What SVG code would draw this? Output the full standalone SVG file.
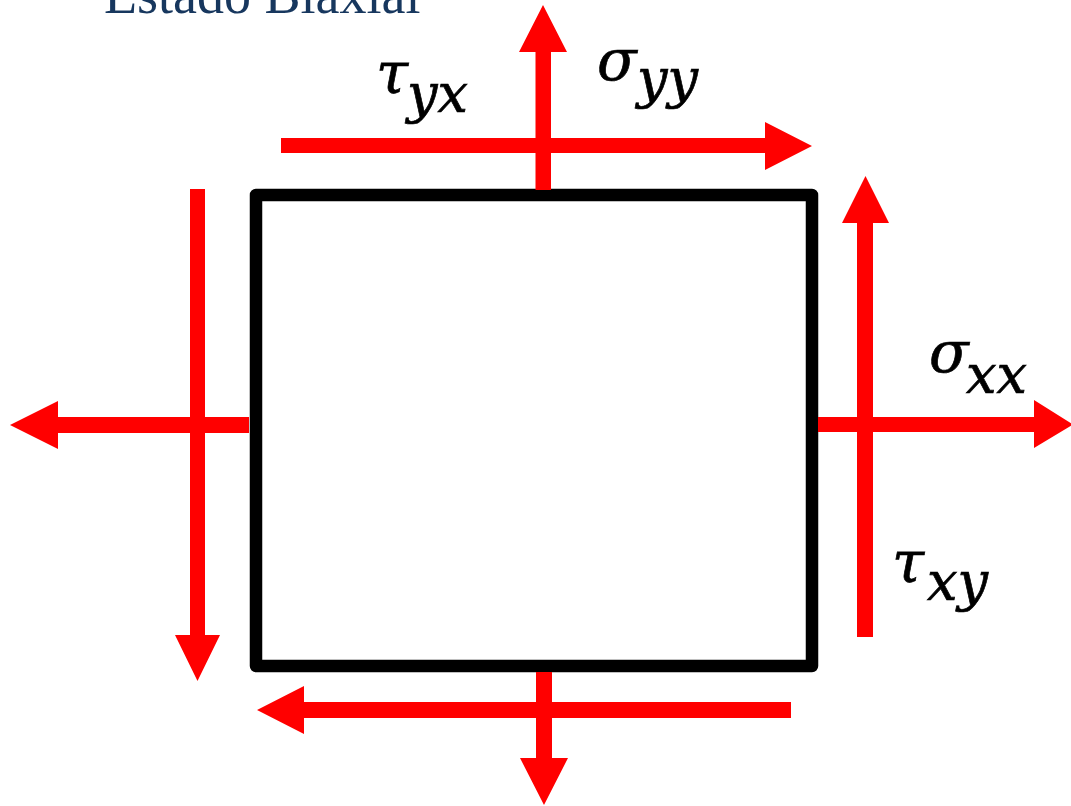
<svg xmlns="http://www.w3.org/2000/svg" width="1071" height="806" viewBox="0 0 1071 806">
<style>
.arr{fill:#FF0000;stroke:none}
.box{fill:#FFFFFF;stroke:#000000;stroke-width:12.5;stroke-linejoin:round}
.m{font-family:"DejaVu Serif","Liberation Serif",serif;font-style:italic;fill:#000000;stroke:#000000;stroke-width:0.7}
.main{font-size:58px}
.sub{font-size:54px}
.title{font-family:"Liberation Serif",serif;font-size:54px;fill:#17375E}
</style>
<rect width="1071" height="806" fill="#FFFFFF"/>
<g id="title"><text class="title" x="104" y="13">Estado Biaxial</text></g>
<g id="element"><rect class="box" x="256" y="195" width="556" height="471"/></g>
<g id="connectors">
<path id="sigma-yy-top" class="arr" d="M535.5,190 L535.5,52 L519,52 L543,5 L567,52 L551,52 L551,190 Z"/>
<path id="tau-yx-top" class="arr" d="M281,138 L765,138 L765,122 L812,146 L765,170 L765,153 L281,153 Z"/>
<path id="sigma-xx-right" class="arr" d="M818,417 L1034,417 L1034,400 L1073,424.5 L1034,448 L1034,432 L818,432 Z"/>
<path id="tau-xy-right" class="arr" d="M857,637 L857,223 L842,223 L865.5,176 L889,223 L873,223 L873,637 Z"/>
<path id="sigma-xx-left" class="arr" d="M249,417 L58,417 L58,401 L10,425 L58,449 L58,433 L249,433 Z"/>
<path id="tau-xy-left" class="arr" d="M190,189 L205,189 L205,635 L220,635 L197.5,681 L175,635 L190,635 Z"/>
<path id="tau-yx-bottom" class="arr" d="M791,702 L304,702 L304,686 L257,710 L304,734 L304,718 L791,718 Z"/>
<path id="sigma-yy-bottom" class="arr" d="M536,672 L552,672 L552,758 L568,758 L544,805 L520,758 L536,758 Z"/>
</g>
<g id="label-tau-yx"><text class="m main" x="376" y="93">τ</text><text class="m sub" x="407" y="112">yx</text></g>
<g id="label-sigma-yy"><text class="m main" x="597" y="80">σ</text><text class="m sub" x="637" y="97">yy</text></g>
<g id="label-sigma-xx"><text class="m main" x="929" y="372">σ</text><text class="m sub" x="966" y="393">xx</text></g>
<g id="label-tau-xy"><text class="m main" x="892" y="582">τ</text><text class="m sub" x="927" y="600">xy</text></g>
</svg>
